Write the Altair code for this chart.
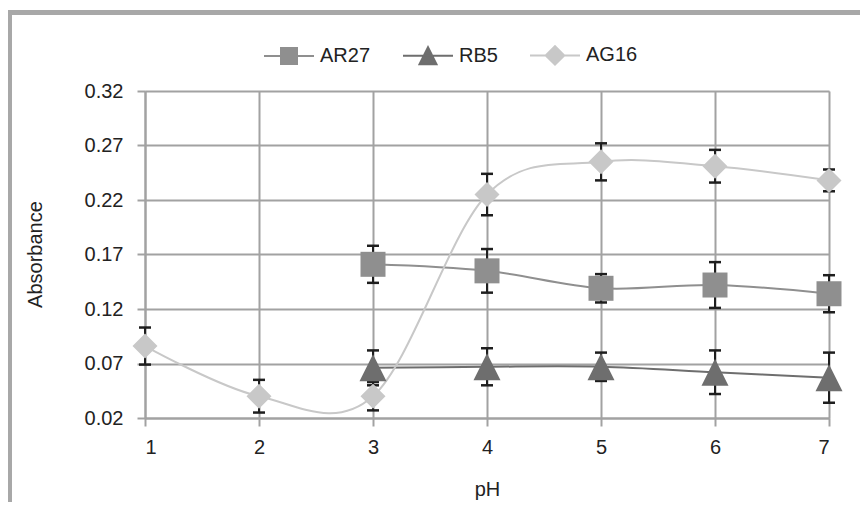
import altair as alt
import pandas as pd

# ---- data ----
series_names = ["AR27", "RB5", "AG16"]
ph_ar27 = [3, 4, 5, 6, 7]
ar27 = [0.161, 0.155, 0.139, 0.142, 0.134]
ar27_err = [0.017, 0.020, 0.013, 0.021, 0.017]

ph_rb5 = [3, 4, 5, 6, 7]
rb5 = [0.066, 0.067, 0.067, 0.062, 0.057]
rb5_err = [0.016, 0.017, 0.013, 0.020, 0.023]

ph_ag16 = [1, 2, 3, 4, 5, 6, 7]
ag16 = [0.086, 0.040, 0.040, 0.225, 0.255, 0.251, 0.238]
ag16_err = [0.017, 0.015, 0.013, 0.019, 0.017, 0.015, 0.010]

x_ticks = [1, 2, 3, 4, 5, 6, 7]
y_ticks = [0.02, 0.07, 0.12, 0.17, 0.22, 0.27, 0.32]

colors = ["#8f8f8f", "#6e6e6e", "#c8c8c8"]

rows = []
for name, xs, ys, es in [("AR27", ph_ar27, ar27, ar27_err),
                         ("RB5", ph_rb5, rb5, rb5_err),
                         ("AG16", ph_ag16, ag16, ag16_err)]:
    for x, y, e in zip(xs, ys, es):
        rows.append({"series": name, "pH": x, "value": y, "lo": y - e, "hi": y + e})
df = pd.DataFrame(rows)

FONT = "Liberation Sans"
FS = 20
GRID = "#a2a2a2"
ERR = "#1e1e1e"
TXT = "#222222"

xenc = alt.X("pH:Q", scale=alt.Scale(domain=[1, 7], nice=False, zero=False),
             axis=alt.Axis(values=x_ticks, format="d", title="pH", grid=True,
                           gridColor=GRID, gridWidth=2, domainColor=GRID, domainWidth=2,
                           tickColor=GRID, tickWidth=2, tickSize=8,
                           labelFont=FONT, labelFontSize=FS, labelColor=TXT,
                           labelPadding=11,
                           titleFont=FONT, titleFontSize=FS, titleFontWeight="normal",
                           titleColor=TXT, titleY=77, titleBaseline="alphabetic"))
yscale = alt.Scale(domain=[0.02, 0.32], nice=False, zero=False)
yenc = alt.Y("value:Q", scale=yscale,
             axis=alt.Axis(values=y_ticks, format=".2f", title="Absorbance", grid=True,
                           gridColor=GRID, gridWidth=2, domainColor=GRID, domainWidth=2,
                           tickColor=GRID, tickWidth=2, tickSize=8,
                           labelFont=FONT, labelFontSize=FS, labelColor=TXT,
                           labelPadding=14,
                           titleFont=FONT, titleFontSize=FS, titleFontWeight="normal",
                           titleColor=TXT, titleX=-100, titleY=163,
                           titleAngle=270, titleBaseline="bottom", titleAlign="center"))

color_scale = alt.Scale(domain=series_names, range=colors)
base = alt.Chart(df)

lines = base.mark_line(interpolate="cardinal", tension=0, strokeWidth=2, clip=True).encode(
    x=xenc, y=yenc,
    color=alt.Color("series:N", scale=color_scale, legend=None),
    order="pH:Q")

err_rules = base.mark_rule(color=ERR, strokeWidth=2).encode(
    x="pH:Q", y="lo:Q", y2="hi:Q")

caps = base.transform_fold(["lo", "hi"], as_=["end", "v"]).mark_tick(
    orient="horizontal", size=12, thickness=2.5, color=ERR, opacity=1).encode(
    x="pH:Q", y=alt.Y("v:Q", scale=yscale))

tri_path = "M0,-1.08L1.08,1.08L-1.08,1.08Z"
marker_shapes = ["square", tri_path, "diamond"]
point_layers = []
for name, shp, col in zip(series_names, marker_shapes, colors):
    point_layers.append(
        base.transform_filter(alt.datum.series == name).mark_point(
            filled=True, opacity=1, size=625, strokeWidth=0, shape=shp, color=col
        ).encode(x="pH:Q", y="value:Q"))

leg_paths = [
    "M-1,0H1M-0.32,-0.32H0.32V0.32H-0.32Z",
    "M-1,0H1M0,-0.34L0.34,0.34H-0.34Z",
    "M-1,0H1M-0.37,0L0,-0.37L0.37,0L0,0.37Z",
]
leg = alt.Legend(orient="none", legendX=118, legendY=-62, direction="horizontal",
                 title=None, labelFont=FONT, labelFontSize=FS, labelColor=TXT,
                 symbolSize=2500, symbolStrokeWidth=2, columnPadding=28,
                 labelOffset=5, padding=0, symbolOpacity=1)
legend_layer = base.mark_point(
    filled=True, opacity=0, size=2500, strokeWidth=2).encode(
    x="pH:Q", y="value:Q",
    shape=alt.Shape("series:N", scale=alt.Scale(domain=series_names, range=leg_paths), legend=leg),
    fill=alt.Fill("series:N", scale=alt.Scale(domain=series_names, range=colors), legend=leg),
    stroke=alt.Stroke("series:N", scale=alt.Scale(domain=series_names, range=colors), legend=leg))

frame_df = pd.DataFrame({"k": [0]})
frame_top = alt.Chart(frame_df).mark_rule(color="#a8a8a8", strokeWidth=5, clip=False).encode(
    x=alt.value(-138), x2=alt.value(760), y=alt.value(-78.5))
frame_left = alt.Chart(frame_df).mark_rule(color="#a8a8a8", strokeWidth=5, clip=False).encode(
    x=alt.value(-135.5), y=alt.value(-81), y2=alt.value(460))

chart = alt.layer(legend_layer, frame_top, frame_left, lines, err_rules, caps, *point_layers).properties(
    width=684, height=327,
    autosize=alt.AutoSizeParams(type="none"),
    padding={"left": 137, "top": 83, "right": 31, "bottom": 84},
).configure_view(stroke=None).configure(background="white")

chart.save("out.html", embed_options={"renderer": "svg", "actions": False})
